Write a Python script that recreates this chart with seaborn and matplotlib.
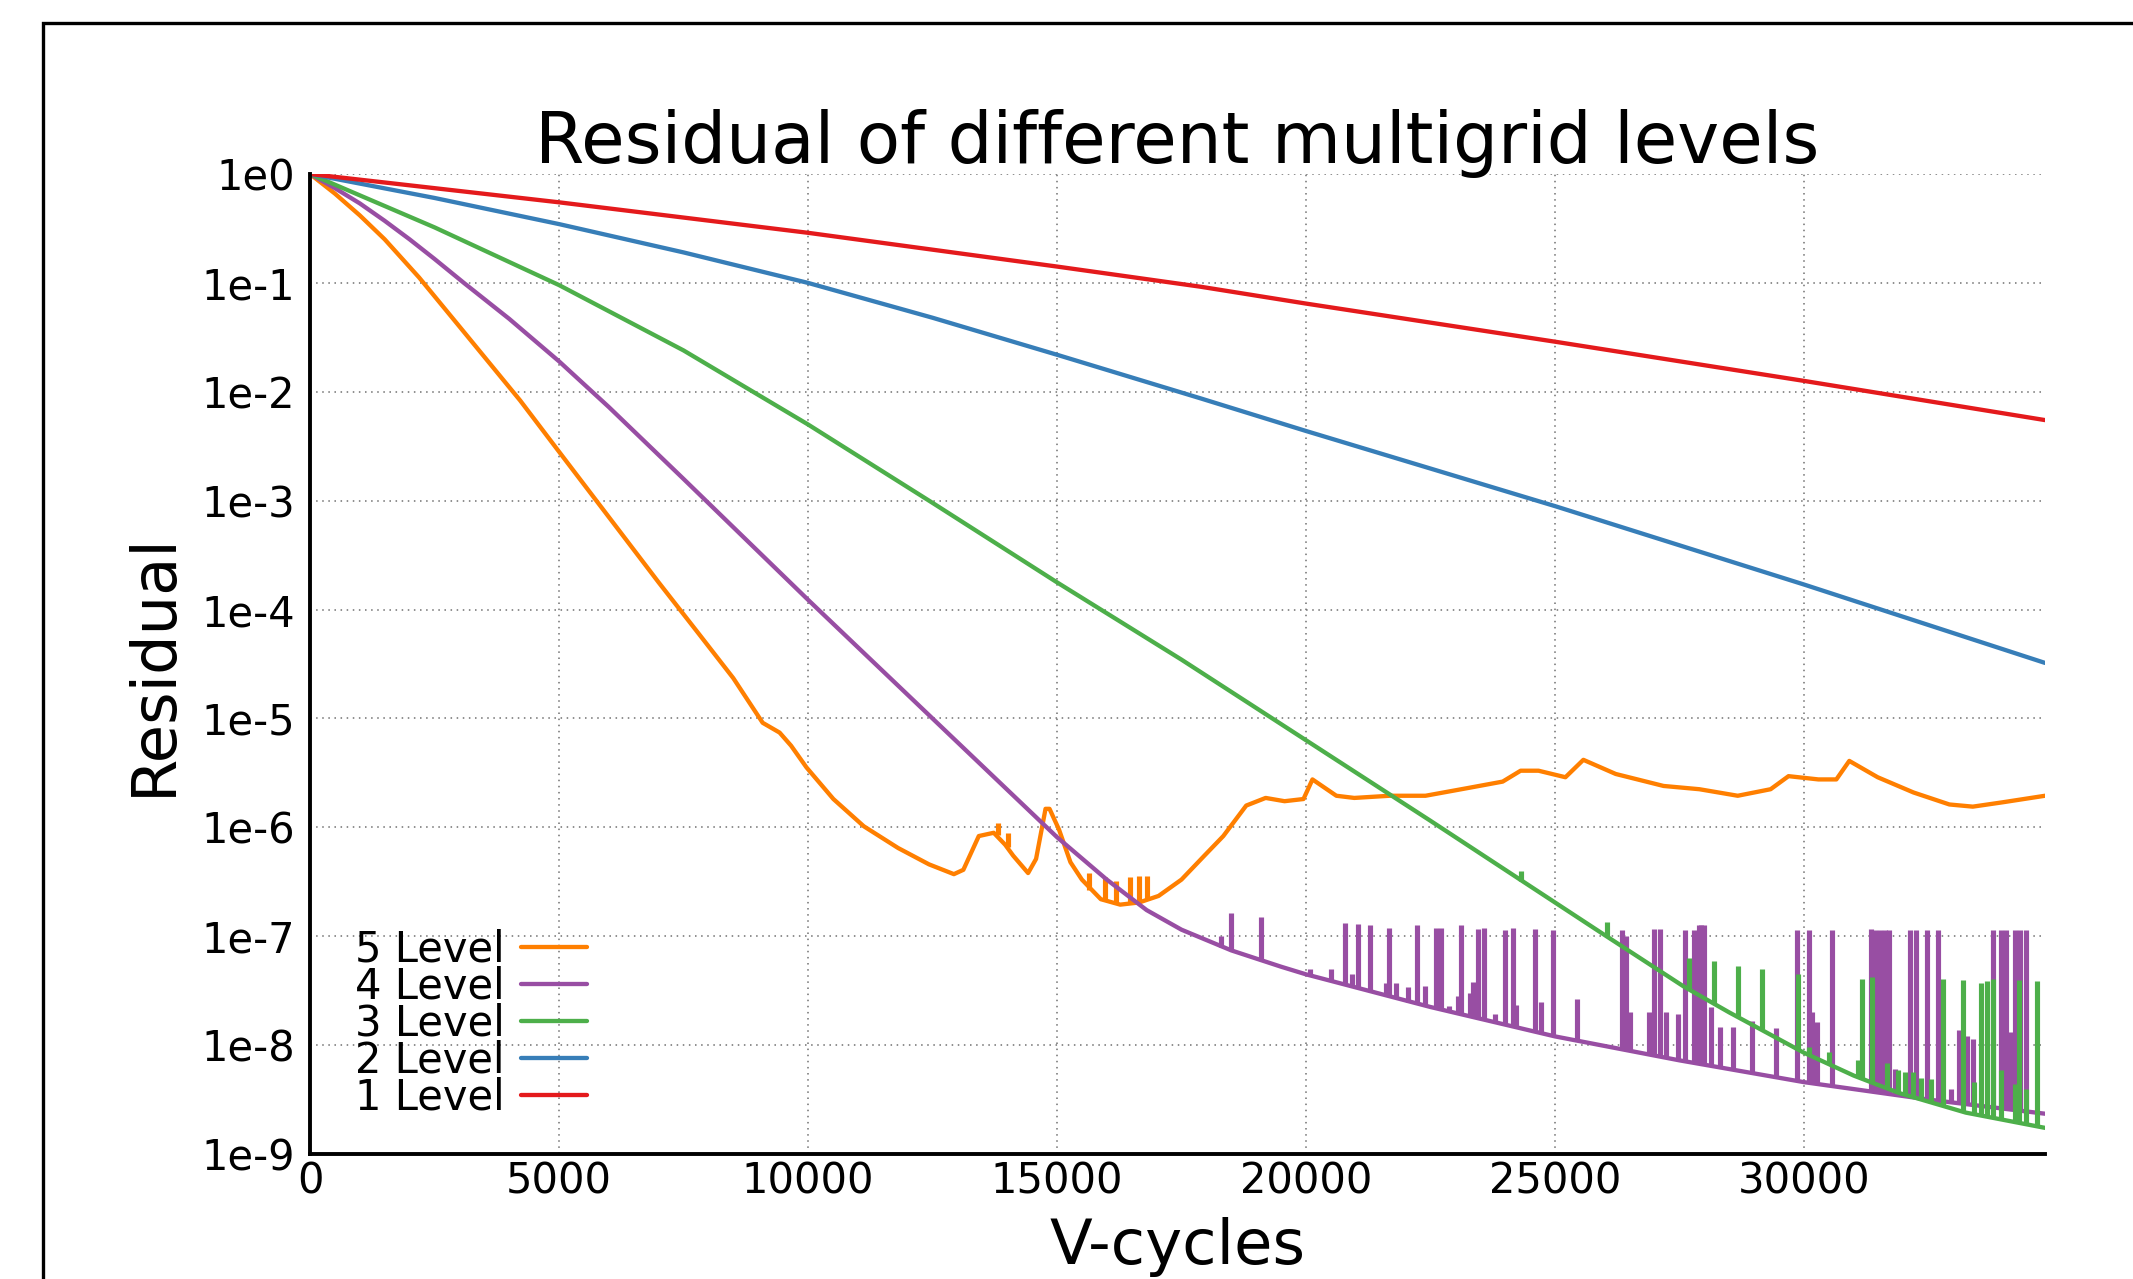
import numpy as np
import pandas as pd
import matplotlib
matplotlib.use("Agg")
import matplotlib.pyplot as plt
import seaborn as sns
from matplotlib.patches import Rectangle
from matplotlib.ticker import NullLocator

# Residuals, stored as log10(residual)
red_x = [0, 5000, 10000, 15000, 17880, 20000, 25000, 30000, 34840]
red_lg = [0, -0.26, -0.54, -0.85, -1.035, -1.19, -1.54, -1.90, -2.26]

blue_x = [0, 2500, 5000, 7500, 10000, 12500, 15000, 17880, 20000, 25000, 30000, 34840]
blue_lg = [0, -0.22, -0.46, -0.72, -1.0, -1.32, -1.66, -2.06, -2.36, -3.05, -3.77, -4.49]

green_x = [0, 2500, 5000, 7500, 10000, 12500, 15000, 17500, 20000, 22500,
           25000, 26000, 27580, 28500, 30000, 31000, 31910, 33250, 34840]
green_lg = [0, -0.49, -1.02, -1.62, -2.30, -3.02, -3.75, -4.46, -5.2, -5.94,
            -6.69, -6.99, -7.46, -7.70, -8.07, -8.28, -8.44, -8.62, -8.76]

purple_x = [0, 500, 1000, 1500, 2000, 2500, 3090, 4000, 5000, 6000, 7500, 10000, 12500, 15000,
            16000, 16800, 17500, 18500, 19500, 20000, 22500, 25000, 27500, 30000, 32500, 34840]
purple_lg = [0, -0.13, -0.27, -0.43, -0.6, -0.78, -1.0, -1.33, -1.72, -2.14, -2.80, -3.91, -5.0,
             -6.09, -6.48, -6.76, -6.94, -7.13, -7.28, -7.35, -7.65, -7.92, -8.14, -8.34, -8.5,
             -8.63]

orange_x = [0, 500, 1000, 1500, 2190, 3000, 4220, 5000, 6000, 7000, 7820, 8500, 9090, 9430, 9660,
            9970, 10510, 11120, 11810, 12430, 12930, 13120, 13430, 13730, 13960, 14120,
            14420, 14580, 14770, 14850, 15040, 15270, 15500, 15880, 16270, 16650, 17040,
            17500, 17960, 18340, 18800, 19190, 19570, 19950, 20130, 20610, 20970, 21680,
            22400, 23240, 23950, 24310, 24670, 25210, 25570, 26220, 27180, 27900, 28670,
            29330, 29690, 30290, 30650, 30910, 31480, 32200, 32920, 33390, 33990, 34840]
orange_lg = [0, -0.18, -0.38, -0.6, -0.95, -1.4, -2.08, -2.55, -3.15, -3.75, -4.23, -4.63, -5.04,
             -5.13, -5.25, -5.45, -5.74, -5.99, -6.19, -6.34, -6.43, -6.39, -6.08, -6.05, -6.16,
             -6.26, -6.42, -6.29, -5.83, -5.83, -6.02, -6.32, -6.48, -6.66, -6.71, -6.69,
             -6.63, -6.48, -6.26, -6.08, -5.80, -5.73, -5.76, -5.74, -5.56, -5.71, -5.73,
             -5.71, -5.71, -5.64, -5.58, -5.48, -5.48, -5.54, -5.38, -5.51, -5.62, -5.65,
             -5.71, -5.65, -5.53, -5.56, -5.56, -5.39, -5.54, -5.68, -5.79, -5.81, -5.77,
             -5.71]

# spikes (x, top, base), log10
purple_spike_x = [18300, 18500, 19100, 20090, 20510, 20790, 20920, 21040, 21290, 21610, 21660,
                  21810, 22040, 22230, 22380, 22610, 22720, 22870, 23060, 23110, 23300, 23360,
                  23460, 23570, 23790, 23990, 24150, 24210, 24590, 24720, 24970, 25440, 26340,
                  26430, 26500, 26880, 26990, 27100, 27230, 27480, 27620, 27800, 27890, 27940,
                  27990, 28130, 28320, 28580, 28950, 29430, 29850, 30100, 30170, 30270, 30570,
                  31340, 31430, 31530, 31630, 31700, 31830, 32130, 32250, 32480, 32700, 32950,
                  33110, 33270, 33400, 33790, 33960, 34060, 34160, 34230, 34330, 34460]
purple_spike_top = [-7.0, -6.79, -6.82, -7.30, -7.30, -6.88, -7.35, -6.89, -6.90, -7.43, -6.92,
                    -7.43, -7.47, -6.90, -7.46, -6.92, -6.92, -7.64, -7.55, -6.90, -7.52, -7.42,
                    -6.93, -6.92, -7.71, -6.94, -6.92, -7.63, -6.93, -7.60, -6.94, -7.58, -6.94,
                    -7.0, -7.70, -7.70, -6.93, -6.93, -7.70, -7.71, -6.94, -6.94, -6.90, -6.90,
                    -6.90, -7.65, -7.83, -7.83, -7.78, -7.84, -6.94, -6.94, -7.70, -7.79, -6.94,
                    -6.93, -6.94, -6.94, -6.94, -6.94, -8.22, -6.94, -6.94, -6.94, -6.94, -8.4,
                    -7.86, -7.92, -7.94, -6.94, -6.94, -6.94, -7.88, -6.94, -6.94, -6.94]
purple_spike_base = [-7.10, -7.13, -7.22, -7.36, -7.41, -7.44, -7.46, -7.47, -7.50, -7.54, -7.55,
                     -7.57, -7.60, -7.62, -7.64, -7.66, -7.67, -7.69, -7.71, -7.71, -7.73, -7.74,
                     -7.75, -7.76, -7.78, -7.80, -7.82, -7.83, -7.87, -7.89, -7.92, -7.96, -8.03,
                     -8.04, -8.05, -8.08, -8.09, -8.10, -8.11, -8.13, -8.15, -8.16, -8.17, -8.17,
                     -8.18, -8.19, -8.21, -8.23, -8.26, -8.30, -8.33, -8.35, -8.35, -8.36, -8.38,
                     -8.43, -8.44, -8.44, -8.45, -8.45, -8.46, -8.48, -8.49, -8.50, -8.51, -8.53,
                     -8.54, -8.55, -8.56, -8.58, -8.59, -8.59, -8.60, -8.60, -8.61, -8.62]

green_spike_x = [24310, 26040, 27700, 28190, 28680, 29150, 29880, 30100, 30500, 31090, 31170,
                 31360, 31660, 31890, 32030, 32180, 32350, 32550, 32800, 33200, 33420, 33560,
                 33680, 33790, 33960, 34230, 34320, 34460, 34680]
green_spike_top = [-6.40, -6.87, -7.20, -7.23, -7.27, -7.30, -7.35, -8.02, -8.06, -8.14, -7.39,
                   -7.37, -8.16, -8.23, -8.25, -8.25, -8.30, -8.31, -7.39, -7.40, -8.34, -7.43,
                   -7.41, -7.39, -8.23, -8.36, -7.40, -8.40, -7.41]
green_spike_base = [-6.49, -7.0, -7.49, -7.61, -7.73, -7.85, -8.04, -8.09, -8.17, -8.29, -8.31,
                    -8.34, -8.39, -8.44, -8.46, -8.48, -8.50, -8.53, -8.56, -8.61, -8.63, -8.64,
                    -8.65, -8.66, -8.68, -8.70, -8.71, -8.72, -8.75]

orange_spike_x = [13810, 14020, 15650, 15960, 16190, 16460, 16650, 16800]
orange_spike_top = [-5.96, -6.05, -6.42, -6.46, -6.49, -6.46, -6.45, -6.45]
orange_spike_base = [-6.07, -6.18, -6.58, -6.67, -6.70, -6.70, -6.69, -6.67]

x_ticks = [0, 5000, 10000, 15000, 20000, 25000, 30000]
y_exponents = [0, -1, -2, -3, -4, -5, -6, -7, -8, -9]
y_tick_labels = ["1e0", "1e-1", "1e-2", "1e-3", "1e-4", "1e-5", "1e-6", "1e-7", "1e-8", "1e-9"]

levels = ["5 Level", "4 Level", "3 Level", "2 Level", "1 Level"]
pal = sns.color_palette("Set1", 5)
colors = {"1 Level": pal[0], "2 Level": pal[1], "3 Level": pal[2],
          "4 Level": pal[3], "5 Level": pal[4]}

series = {
    "5 Level": (orange_x, orange_lg),
    "4 Level": (purple_x, purple_lg),
    "3 Level": (green_x, green_lg),
    "2 Level": (blue_x, blue_lg),
    "1 Level": (red_x, red_lg),
}
spikes = {
    "5 Level": (orange_spike_x, orange_spike_top, orange_spike_base),
    "4 Level": (purple_spike_x, purple_spike_top, purple_spike_base),
    "3 Level": (green_spike_x, green_spike_top, green_spike_base),
}

sns.set_style("white")
plt.rcParams["font.family"] = ["DejaVu Sans"]
plt.rcParams["text.color"] = "black"
plt.rcParams["axes.labelcolor"] = "black"

W, H = 2133, 1279
fig = plt.figure(figsize=(W / 100, H / 100), dpi=100)
ax = fig.add_axes([310 / W, 1 - 1154 / H, (2045 - 310) / W, (1154 - 174) / H])

lw = 3.1
for i, lev in enumerate(levels):
    xs, lg = series[lev]
    df = pd.DataFrame({"V-cycles": xs, "Residual": 10.0 ** np.array(lg)})
    z = 2 + 0.1 * i
    sns.lineplot(data=df, x="V-cycles", y="Residual", ax=ax, color=colors[lev],
                 linewidth=lw, label=lev, sort=False, estimator=None, zorder=z)
    if lev in spikes:
        sx, top, base = spikes[lev]
        ax.vlines(sx, 10.0 ** np.array(base), 10.0 ** np.array(top),
                  colors=[colors[lev]], linewidth=lw + 0.6, zorder=z)

ax.set_yscale("log")
ax.set_xlim(0, 34840)
ax.set_ylim(1e-9, 1e0)
ax.set_xticks(x_ticks)
ax.set_xticklabels([str(t) for t in x_ticks])
ax.set_yticks([10.0 ** e for e in y_exponents])
ax.set_yticklabels(y_tick_labels)
ax.yaxis.set_minor_locator(NullLocator())
ax.tick_params(axis="both", length=0, labelsize=30, colors="black")
ax.tick_params(axis="y", pad=11)
ax.tick_params(axis="x", pad=5)

ax.grid(True, ls=(0, (1, 3)), color="#707070", lw=1.1)
ax.set_axisbelow(True)

for s in ["top", "right"]:
    ax.spines[s].set_visible(False)
for s in ["left", "bottom"]:
    ax.spines[s].set_linewidth(2.8)
    ax.spines[s].set_color("black")

ax.set_title("Residual of different multigrid levels", fontsize=51, pad=8, color="black")
ax.set_xlabel("V-cycles", fontsize=45, labelpad=10)
ax.set_ylabel("Residual", fontsize=45, labelpad=12)

handles, labels = ax.get_legend_handles_labels()
ax.legend(handles, labels, loc="lower left", bbox_to_anchor=(0.026, 0.036),
          frameon=False, fontsize=30, markerfirst=False, handlelength=1.6,
          handletextpad=0.38, labelspacing=-0.12, borderpad=0, borderaxespad=0)

# outer frame of the original figure
fig.patches.append(Rectangle((43 / W, -0.1), 2.0, 1.1 - 23 / H, transform=fig.transFigure,
                             fill=False, ec="black", lw=2.4))

fig.savefig("out.png", dpi=100)
